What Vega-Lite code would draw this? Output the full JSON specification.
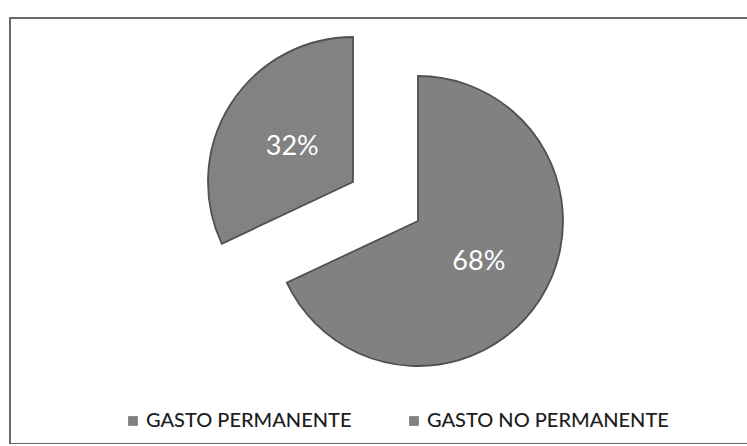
{
  "$schema": "https://vega.github.io/schema/vega-lite/v6.json",
  "width": 738,
  "height": 426,
  "padding": {"left": 10, "top": 18, "right": 0, "bottom": 0},
  "background": "white",
  "view": {"stroke": "#6a6a6a", "strokeWidth": 2},
  "config": {
    "font": "Lato"
  },
  "data": {
    "values": [
      {"categoria": "GASTO PERMANENTE", "porcentaje": 0.68},
      {"categoria": "GASTO NO PERMANENTE", "porcentaje": 0.32}
    ]
  },
  "encoding": {
    "theta": {"field": "porcentaje", "type": "quantitative", "stack": true},
    "order": {"field": "categoria", "sort": "descending"}
  },
  "layer": [
    {
      "mark": {"type": "arc", "outerRadius": 145, "xOffset": 39, "yOffset": -10, "stroke": "#505050", "strokeWidth": 1.8},
      "encoding": {
        "color": {
          "field": "categoria", "type": "nominal",
          "scale": {"domain": ["GASTO PERMANENTE", "GASTO NO PERMANENTE"], "range": ["#818181", "#828282"]},
          "legend": {
            "title": null, "orient": "none", "direction": "horizontal",
            "legendX": 113, "legendY": 393,
            "symbolType": "square", "symbolSize": 80, "symbolFillColor": "#666666",
            "symbolStrokeColor": "#555555", "symbolStrokeWidth": 0.5,
            "labelFontSize": 20, "labelColor": "#1e1e1e", "labelFont": "Lato", "labelFontWeight": 500,
            "labelOffset": 3, "columnPadding": 52, "labelLimit": 400
          }
        },
        "opacity": {"condition": {"test": "datum.categoria === 'GASTO NO PERMANENTE'", "value": 0}, "value": 1}
      }
    },
    {
      "mark": {"type": "arc", "outerRadius": 145, "xOffset": -26, "yOffset": -49, "stroke": "#505050", "strokeWidth": 1.8},
      "encoding": {
        "color": {"field": "categoria", "type": "nominal"},
        "opacity": {"condition": {"test": "datum.categoria === 'GASTO PERMANENTE'", "value": 0}, "value": 1}
      }
    },
    {
      "mark": {"type": "text", "radius": 72, "xOffset": 39, "yOffset": -8, "fontSize": 27, "fill": "white", "font": "Lato"},
      "encoding": {
        "text": {"field": "porcentaje", "type": "quantitative", "format": ".0%"},
        "opacity": {"condition": {"test": "datum.categoria === 'GASTO NO PERMANENTE'", "value": 0}, "value": 1}
      }
    },
    {
      "mark": {"type": "text", "radius": 72, "xOffset": -26, "yOffset": -45, "fontSize": 27, "fill": "white", "font": "Lato"},
      "encoding": {
        "text": {"field": "porcentaje", "type": "quantitative", "format": ".0%"},
        "opacity": {"condition": {"test": "datum.categoria === 'GASTO PERMANENTE'", "value": 0}, "value": 1}
      }
    }
  ]
}
